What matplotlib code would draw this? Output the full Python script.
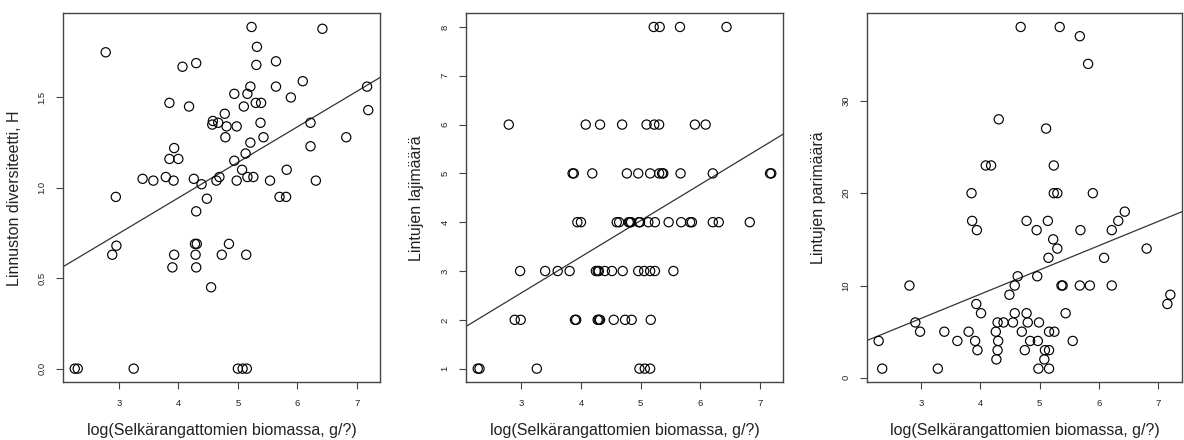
import matplotlib
matplotlib.use("Agg")
import matplotlib.pyplot as plt

plt.rcParams['font.family'] = ['Liberation Sans', 'DejaVu Sans']

# ---------------- data ----------------
x_label = "log(Selkärangattomien biomassa, g/?)"
y_labels = ["Linnuston diversiteetti, H", "Lintujen lajimäärä", "Lintujen parimäärä"]
x_ticks = [3, 4, 5, 6, 7]
y_ticks_1 = [0.0, 0.5, 1.0, 1.5]
y_ticks_2 = [1, 2, 3, 4, 5, 6, 7, 8]
y_ticks_3 = [0, 10, 20, 30]

# Panel 1: diversity
x1 = [2.78, 5.23, 6.42, 5.32, 4.07, 4.30, 5.31, 5.64, 5.64, 6.09, 7.17, 7.19, 5.89, 5.21, 5.16,
      4.94, 5.30, 5.39, 5.10, 3.85, 4.18, 4.58, 4.57, 4.67, 4.78, 4.81, 4.98, 4.79, 5.38, 6.22,
      5.43, 6.82, 6.22, 5.21, 5.13, 3.93, 3.85, 4.00, 4.94, 5.07, 5.82, 3.40, 3.58, 3.79, 3.92,
      4.26, 4.39, 4.64, 4.69, 4.98, 5.16, 5.26, 5.54, 6.31, 2.95, 4.48, 5.70, 5.81, 4.30, 4.28,
      4.31, 2.96, 2.89, 3.93, 4.29, 4.73, 4.85, 5.14, 3.90, 4.30, 4.55, 2.26, 2.31, 3.25, 5.00,
      5.08, 5.15]
y1 = [1.75, 1.89, 1.88, 1.78, 1.67, 1.69, 1.68, 1.70, 1.56, 1.59, 1.56, 1.43, 1.50, 1.56, 1.52,
      1.52, 1.47, 1.47, 1.45, 1.47, 1.45, 1.37, 1.35, 1.36, 1.41, 1.34, 1.34, 1.28, 1.36, 1.36,
      1.28, 1.28, 1.23, 1.25, 1.19, 1.22, 1.16, 1.16, 1.15, 1.10, 1.10, 1.05, 1.04, 1.06, 1.04,
      1.05, 1.02, 1.04, 1.06, 1.04, 1.06, 1.06, 1.04, 1.04, 0.95, 0.94, 0.95, 0.95, 0.87, 0.69,
      0.69, 0.68, 0.63, 0.63, 0.63, 0.63, 0.69, 0.63, 0.56, 0.56, 0.45, 0.0, 0.0, 0.0, 0.0,
      0.0, 0.0]

# Panel 2: species count
x2 = [5.22, 5.32, 5.66, 6.44,
      2.79, 4.08, 4.32, 4.69, 5.10, 5.23, 5.31, 5.91, 6.09,
      3.86, 3.88, 4.19, 4.77, 4.96, 5.16, 5.31, 5.36, 5.38, 5.67, 6.21, 7.17, 7.19,
      3.94, 4.00, 4.60, 4.64, 4.80, 4.82, 4.84, 4.97, 4.99, 5.13, 5.24, 5.47, 5.68, 5.83, 5.86,
      6.21, 6.31, 6.83,
      2.98, 3.40, 3.61, 3.81, 4.25, 4.28, 4.30, 4.40, 4.52, 4.70, 4.96, 5.06, 5.16, 5.24, 5.55,
      2.89, 2.99, 3.90, 3.92, 4.28, 4.30, 4.32, 4.55, 4.74, 4.85, 5.17,
      2.27, 2.30, 3.26, 4.98, 5.07, 5.16]
y2 = [8, 8, 8, 8,
      6, 6, 6, 6, 6, 6, 6, 6, 6,
      5, 5, 5, 5, 5, 5, 5, 5, 5, 5, 5, 5, 5,
      4, 4, 4, 4, 4, 4, 4, 4, 4, 4, 4, 4, 4, 4, 4, 4, 4, 4,
      3, 3, 3, 3, 3, 3, 3, 3, 3, 3, 3, 3, 3, 3, 3,
      2, 2, 2, 2, 2, 2, 2, 2, 2, 2, 2,
      1, 1, 1, 1, 1, 1]

# Panel 3: pair count
x3 = [4.68, 5.34, 5.68, 5.82, 4.31, 5.11, 4.09, 4.18, 5.24, 3.85, 5.24, 5.30, 5.90, 3.86, 3.94,
      4.78, 4.95, 5.14, 5.23, 5.30, 5.15, 5.69, 6.22, 6.33, 6.44, 6.81, 6.09, 2.80, 4.63, 4.96,
      4.58, 5.37, 5.39, 5.68, 5.85, 6.22, 4.49, 3.93, 4.01, 4.58, 4.78, 5.44, 7.21, 7.16, 2.90,
      2.98, 3.39, 3.80, 4.26, 4.29, 4.39, 4.55, 4.70, 4.80, 4.99, 5.16, 5.25, 3.61, 3.91, 4.30,
      4.84, 4.97, 5.56, 2.28, 3.95, 4.29, 4.75, 5.09, 5.16, 4.27, 5.08, 2.34, 3.28, 4.98, 5.16]
y3 = [38, 38, 37, 34, 28, 27, 23, 23, 23, 20, 20, 20, 20, 17, 16,
      17, 16, 17, 15, 14, 13, 16, 16, 17, 18, 14, 13, 10, 11, 11,
      10, 10, 10, 10, 10, 10, 9, 8, 7, 7, 7, 7, 9, 8, 6,
      5, 5, 5, 5, 6, 6, 6, 5, 6, 6, 5, 5, 4, 4, 4,
      4, 4, 4, 4, 3, 3, 3, 3, 3, 2, 2, 1, 1, 1, 1]

# Regression lines (intercept, slope)
fit_intercepts = [0.158, 0.328, -1.41]
fit_slopes = [0.1966, 0.741, 2.62]

# ---------------- figure ----------------
W, H = 1184, 440
fig = plt.figure(figsize=(W / 100, H / 100), dpi=100)

panels = [
    dict(x=x1, y=y1, yt=y_ticks_1, ytl=["0.0", "0.5", "1.0", "1.5"], left=63, right=380, ylx=15),
    dict(x=x2, y=y2, yt=y_ticks_2, ytl=[str(v) for v in y_ticks_2], left=466, right=783, ylx=416),
    dict(x=x3, y=y3, yt=y_ticks_3, ytl=[str(v) for v in y_ticks_3], left=867, right=1182, ylx=818),
]
top_px, bot_px = 13.3, 382.3
frame_col = '#444444'
text_col = '#222222'

for i, p in enumerate(panels):
    ax = fig.add_axes([p['left'] / W, 1 - bot_px / H, (p['right'] - p['left']) / W, (bot_px - top_px) / H])
    ax.scatter(p['x'], p['y'], s=44, facecolors='none', edgecolors='black', linewidths=0.85, zorder=3)
    xmin, xmax = min(p['x']), max(p['x'])
    ymin, ymax = min(p['y']), max(p['y'])
    dx, dy = (xmax - xmin) * 0.04, (ymax - ymin) * 0.04
    ax.set_xlim(xmin - dx, xmax + dx)
    ax.set_ylim(ymin - dy, ymax + dy)
    ax.axline((0, fit_intercepts[i]), slope=fit_slopes[i], color='#333333', lw=0.9, zorder=2)
    ax.set_xticks(x_ticks)
    ax.set_xticklabels([str(v) for v in x_ticks])
    ax.set_yticks(p['yt'])
    ax.set_yticklabels(p['ytl'], rotation=90, va='center')
    ax.tick_params(axis='both', length=5, width=0.8, colors=frame_col, labelcolor=text_col, labelsize=6.8)
    ax.tick_params(axis='x', pad=7)
    ax.tick_params(axis='y', pad=7)
    for sp in ax.spines.values():
        sp.set_color(frame_col)
        sp.set_linewidth(1.0)
    cx = (p['left'] + p['right']) / 2
    fig.text(cx / W, 1 - 430 / H, x_label, ha='center', va='center', fontsize=11.5, color=text_col)
    fig.text(p['ylx'] / W, 1 - ((top_px + bot_px) / 2) / H, y_labels[i], ha='center', va='center',
             rotation=90, fontsize=11.5, color=text_col)

fig.savefig("out.png", dpi=100, facecolor='white')
